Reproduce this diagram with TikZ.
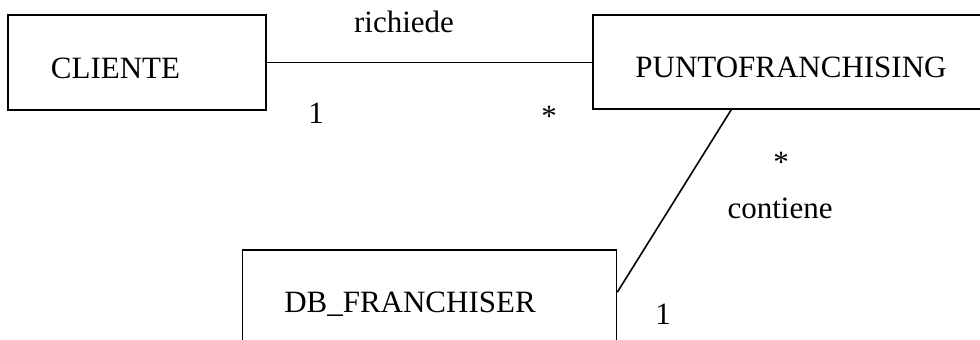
\documentclass[tikz,border=0pt]{standalone}
\usepackage{fontspec}
\setmainfont{Liberation Serif}
\usetikzlibrary{calc}
\tikzset{
  box/.style={draw=black, line width=1.6pt, fill=white, inner sep=0pt, rectangle},
  txt/.style={inner sep=0pt, anchor=base, font=\fontsize{31}{36}\selectfont},
  conn/.style={draw=black, line width=1.6pt}
}
\begin{document}
\begin{tikzpicture}[x=1pt,y=-1pt]
\useasboundingbox (0,0) rectangle (980,340);
\clip (0,0) rectangle (980,340);
\fill[white] (0,0) rectangle (980,340);
% boxes
\node[box, minimum width=258pt, minimum height=95pt] (cliente) at (137,62.5) {};
\node[box, minimum width=420pt, minimum height=94pt] (pf) at (803,62) {};
\node[box, minimum width=374pt, minimum height=140pt] (db) at (429.5,320) {};
% box texts
\node[txt] (tcli) at (115.5,78) {CLIENTE};
\node[txt] (tpf) at (791,77) {PUNTOFRANCHISING};
\node[txt] (tdb) at (410,312) {DB\_FRANCHISER};
% connectors
\coordinate (pfbot) at ($(pf.south west)+(139,0)$);
\coordinate (dbside) at ($(db.north east)+(0,43)$);
\draw[conn] (cliente.east) -- (cliente.east -| pf.west);
\draw[conn] (pfbot) -- (dbside);
% labels
\node[txt] (lrich) at (404,32) {richiede};
\node[txt] (m1) at (316,123) {1};
\node[txt] (m2) at (549,126) {*};
\node[txt] (m3) at (781,172) {*};
\node[txt] (lcont) at (780,218) {contiene};
\node[txt] (m4) at (663,324) {1};
\end{tikzpicture}
\end{document}
